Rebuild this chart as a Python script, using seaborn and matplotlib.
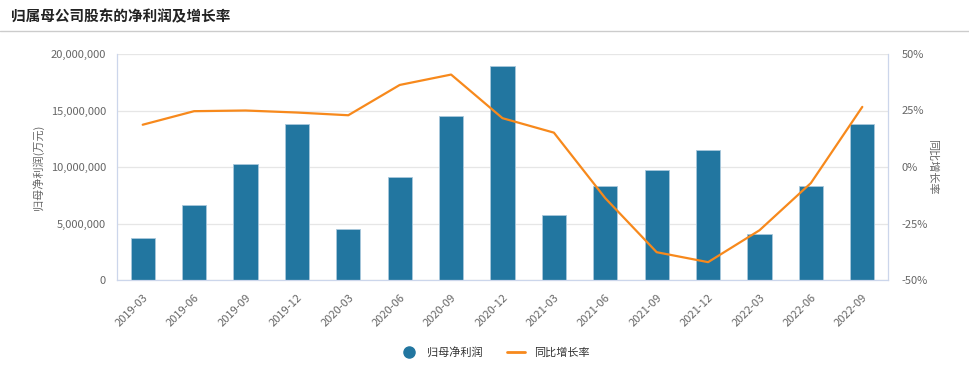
import numpy as np
import pandas as pd
import seaborn as sns
from matplotlib import pyplot as plt
from matplotlib.lines import Line2D
from matplotlib.ticker import FuncFormatter, FixedLocator

quarters = ['2019-03', '2019-06', '2019-09', '2019-12', '2020-03', '2020-06', '2020-09', '2020-12',
            '2021-03', '2021-06', '2021-09', '2021-12', '2022-03', '2022-06', '2022-09']
net_profit = [3690000, 6610000, 10240000, 13830000, 4490000, 9090000, 14540000, 18940000,
              5720000, 8290000, 9730000, 11500000, 4100000, 8290000, 13830000]
growth_pct = [18.7, 24.7, 25.0, 24.1, 22.9, 36.3, 40.9, 21.6,
              15.2, -13.8, -37.7, -42.1, -28.0, -7.1, 26.6]

bar_color = '#2276a0'
line_color = '#f7891c'
axis_color = '#ccd6eb'
text_color = '#666666'

sns.set_theme(style='white')
plt.rcParams['font.family'] = ['Noto Sans CJK SC', 'DejaVu Sans']

df = pd.DataFrame({'quarter': quarters, 'profit': net_profit, 'growth': growth_pct})
df['pos'] = np.arange(len(df))

fig = plt.figure(figsize=(9.7, 3.73), dpi=100)
ax = fig.add_axes([117 / 970, 1 - 280 / 373, 771 / 970, 226 / 373])

sns.barplot(data=df, x='quarter', y='profit', color=bar_color, saturation=1, width=0.47,
            edgecolor='#a9c8dc', linewidth=0.6, ax=ax)
ax.set_ylim(0, 20000000)
ax.set_xlim(-0.5, len(df) - 0.5)
ax.set_yticks([0, 5000000, 10000000, 15000000, 20000000])
ax.yaxis.set_major_formatter(FuncFormatter(lambda v, p: f'{int(v):,}'))
ax.grid(axis='y', color='#e6e6e6', linewidth=0.9)
ax.set_axisbelow(True)
ax.set_xlabel('')
ax.set_ylabel('归母净利润(万元)', fontsize=8, color=text_color, labelpad=5)
ax.tick_params(axis='y', length=0, labelsize=8, labelcolor=text_color, pad=8)
ax.set_xticks(df['pos'])
ax.set_xticklabels(quarters, rotation=45, ha='right', rotation_mode='anchor',
                   fontsize=8, color=text_color)
ax.tick_params(axis='x', which='major', length=0, pad=9)
ax.xaxis.set_minor_locator(FixedLocator(np.arange(-0.5, len(df), 1)))
ax.tick_params(axis='x', which='minor', length=6, color=axis_color, width=0.9)
for side in ['left', 'right', 'bottom']:
    ax.spines[side].set_color(axis_color)
    ax.spines[side].set_linewidth(0.9)
ax.spines['top'].set_visible(False)

ax2 = ax.twinx()
sns.lineplot(data=df, x='pos', y='growth', color=line_color, linewidth=1.6, ax=ax2)
ax2.set_ylim(-50, 50)
ax2.set_yticks([-50, -25, 0, 25, 50])
ax2.yaxis.set_major_formatter(FuncFormatter(lambda v, p: f'{int(v)}%'))
ax2.tick_params(axis='y', length=0, labelsize=8, labelcolor=text_color, pad=10)
ax2.set_ylabel('同比增长率', fontsize=8, color=text_color, rotation=270, labelpad=7)
ax2.set_xlabel('')
for side in ['left', 'right', 'bottom', 'top']:
    ax2.spines[side].set_visible(False)

# title and separator
fig.text(11 / 970, 1 - 16 / 373, '归属母公司股东的净利润及增长率', fontsize=10.5, fontweight='bold',
         color='#222222', va='center', ha='left')
fig.add_artist(Line2D([0, 1], [1 - 31 / 373, 1 - 31 / 373], color='#cccccc', linewidth=1))

handles = [Line2D([], [], marker='o', linestyle='', color=bar_color, markersize=8),
           Line2D([], [], color=line_color, linewidth=2)]
fig.legend(handles, ['归母净利润', '同比增长率'], loc='center', bbox_to_anchor=(0.51, 1 - 352 / 373),
           ncol=2, frameon=False, fontsize=8, handlelength=1.6, columnspacing=2.2,
           labelcolor='#333333')

plt.savefig('out.png', dpi=100)
